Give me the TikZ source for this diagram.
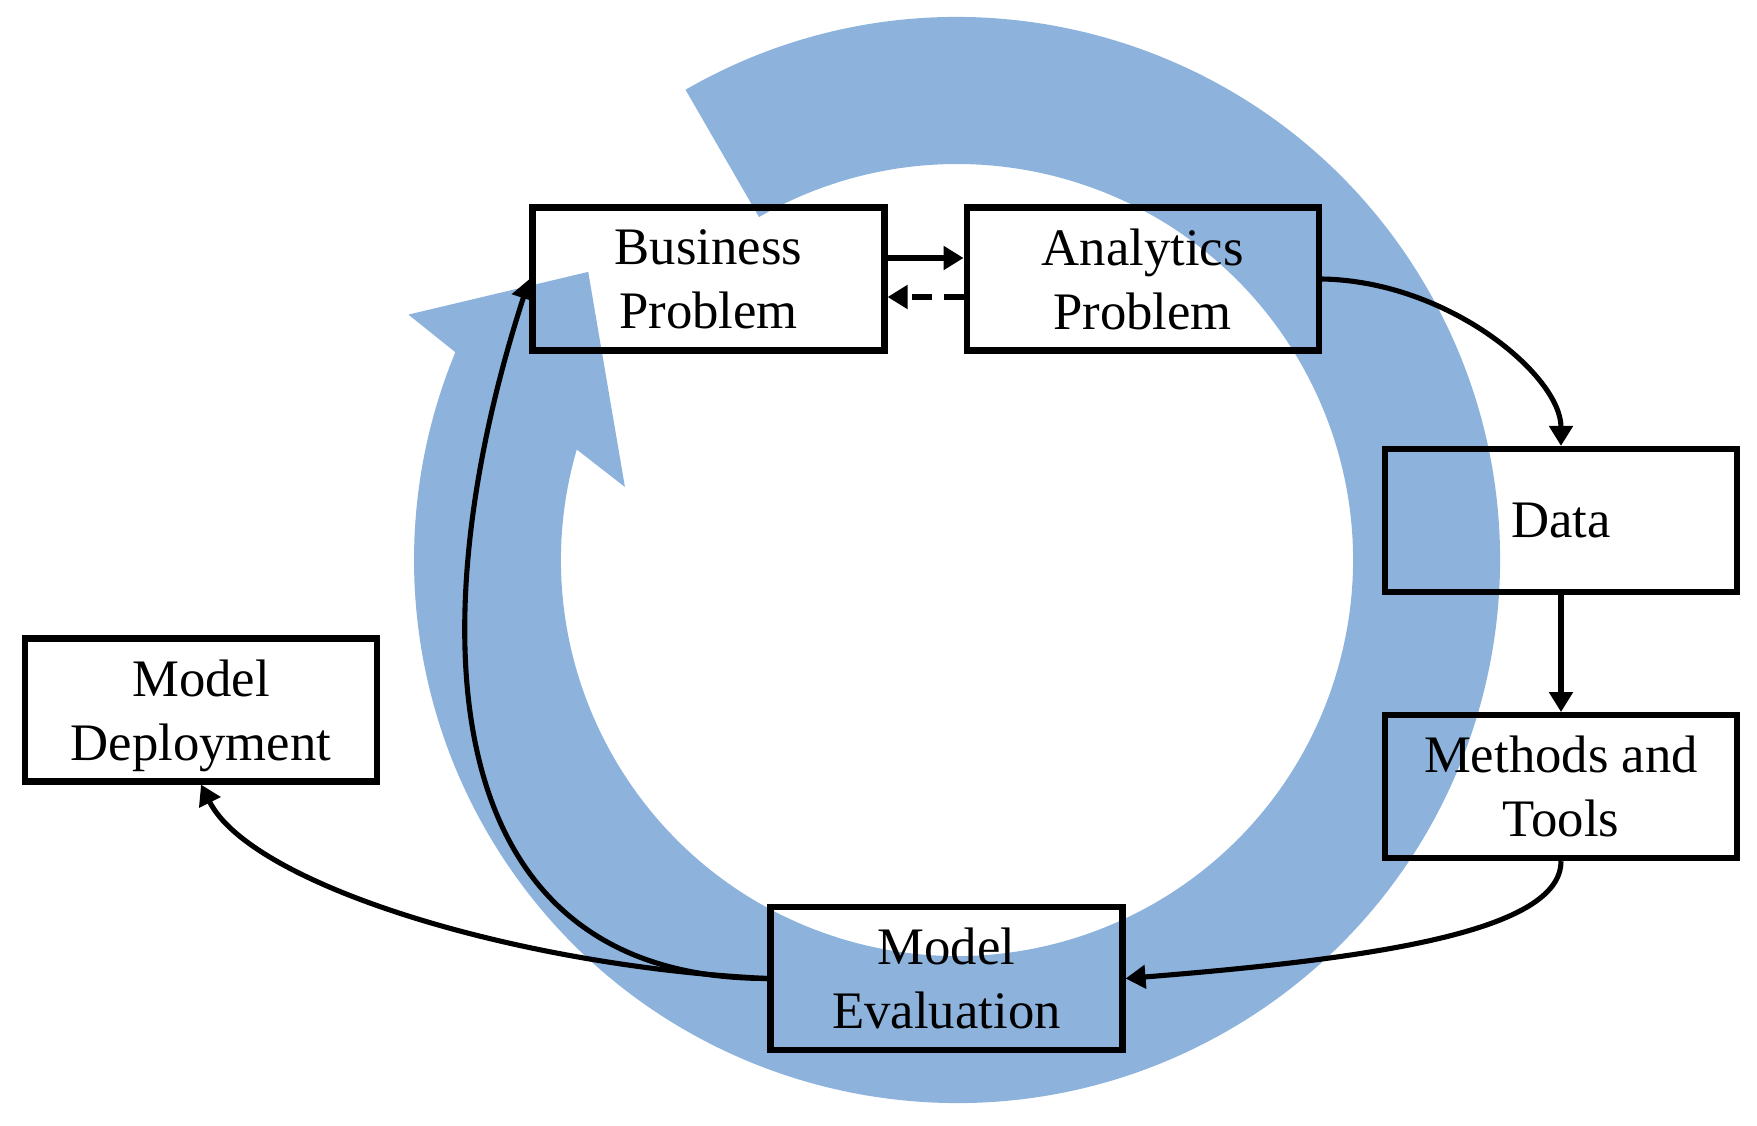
\documentclass[tikz,border=0pt]{standalone}
\usepackage{fontspec}
\setmainfont{Liberation Serif}
\usetikzlibrary{arrows.meta,positioning}
\definecolor{cycleblue}{RGB}{141,179,221}

\begin{document}
\begin{tikzpicture}[
				stage/.style={
				% The shape:
				rectangle,
				% The size:
				minimum width=3.52cm, minimum height=1.43cm, inner sep=0pt,
				% The border:
				line width=1.75pt, draw=black,
				% Font
				font=\fontsize{15}{18.2}\selectfont, align=center, text depth=0pt
				},
				link/.style={
				line width=1.45pt, -{Triangle[length=2mm,width=2.3mm]}
				},
				]
	\useasboundingbox (0,0) rectangle (17.57,11.25);
	% big cycle arrow, behind the boxes
	\begin{scope}[shift={(9.57,5.65)}]
		\fill[cycleblue] (120:5.43) arc[start angle=120, end angle=-202.5, radius=5.43]
			-- (155.9:6.01) -- (142:4.68) -- (167.6:3.40) -- (163.8:3.96)
			arc[start angle=-196.2, end angle=120, radius=3.96] -- cycle;
	\end{scope}
	% the stages
	\node[stage] (bp) at (7.085,8.46) {Business\\Problem};
	\node[stage, right=7.6mm of bp] (ap) {Analytics\\Problem};
	\node[stage] (dt) at (15.61,6.045) {Data};
	\node[stage, below=11.7mm of dt] (mt) {Methods and\\Tools};
	\node[stage] (me) at (9.465,1.465) {Model\\Evaluation};
	\node[stage] (md) at (2.01,4.15) {Model\\Deployment};
	% the links
	\draw[link] ([yshift=2.1mm]bp.east) -- ([yshift=2.1mm]ap.west);
	\draw[link, dash pattern=on 2mm off 1.2mm] ([yshift=-1.8mm]ap.west) -- ([yshift=-1.8mm]bp.east);
	\draw[link] (ap.east) .. controls +(1.27,-0.02) and +(0,0.7) .. (dt.north);
	\draw[link] (dt) -- (mt);
	\draw[link] (mt.south) .. controls +(0,-0.7) and +(2.5,0.2) .. (me.east);
	\draw[link] (me.west) .. controls +(-2.5,0.12) and +(0.5,-1.0) .. (md.south);
	\draw[link] (me.west) to[out=180, in=-108, looseness=1.2] (bp.west);
\end{tikzpicture}
\end{document}
